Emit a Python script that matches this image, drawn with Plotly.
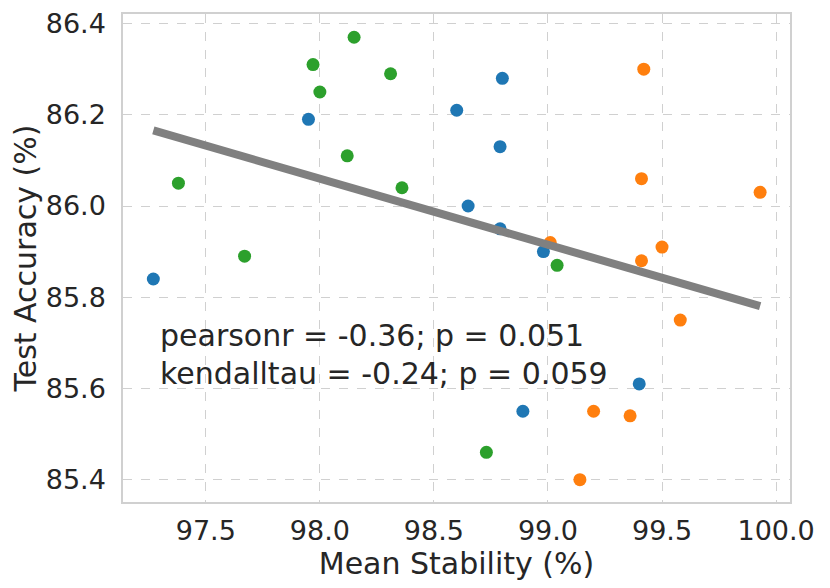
import numpy as np
import plotly.graph_objects as go

# Data
blue_x = [97.27, 97.95, 98.60, 98.65, 98.80, 98.79, 98.79, 98.98, 98.89, 99.40]
blue_y = [85.84, 86.19, 86.21, 86.00, 86.28, 86.13, 85.95, 85.90, 85.55, 85.61]
orange_x = [99.42, 99.41, 99.93, 99.01, 99.50, 99.41, 99.58, 99.20, 99.36, 99.14]
orange_y = [86.30, 86.06, 86.03, 85.92, 85.91, 85.88, 85.75, 85.55, 85.54, 85.40]
green_x = [98.15, 97.97, 98.31, 98.00, 98.12, 98.36, 97.38, 97.67, 99.04, 98.73]
green_y = [86.37, 86.31, 86.29, 86.25, 86.11, 86.04, 86.05, 85.89, 85.87, 85.46]

x_ticks = [97.5, 98.0, 98.5, 99.0, 99.5, 100.0]
y_ticks = [85.4, 85.6, 85.8, 86.0, 86.2, 86.4]

stats_lines = ["pearsonr = -0.36; p = 0.051", "kendalltau = -0.24; p = 0.059"]

FONT = "DejaVu Sans"
TXT = "#262626"

all_x = np.array(blue_x + orange_x + green_x)
all_y = np.array(blue_y + orange_y + green_y)
slope, intercept = np.polyfit(all_x, all_y, 1)
fit_x = np.array([all_x.min(), all_x.max()])
fit_y = slope * fit_x + intercept

fig = go.Figure()
for xs, ys, col in [(blue_x, blue_y, "#1f77b4"),
                    (orange_x, orange_y, "#ff7f0e"),
                    (green_x, green_y, "#2ca02c")]:
    fig.add_trace(go.Scatter(x=xs, y=ys, mode="markers",
                             marker=dict(color=col, size=13, line=dict(width=0)),
                             showlegend=False))
fig.add_trace(go.Scatter(x=fit_x, y=fit_y, mode="lines",
                         line=dict(color="#808080", width=8),
                         showlegend=False))

for i, t in enumerate(stats_lines):
    fig.add_annotation(text=t, xref="paper", yref="paper",
                       x=0.053, y=[0.342, 0.264][i], xanchor="left", yanchor="middle",
                       showarrow=False, font=dict(family=FONT, size=30, color=TXT))

axis_common = dict(showline=True, mirror=True, linecolor="#d0d0d0", linewidth=1.5,
                   showgrid=True, gridcolor="#d0d0d0", griddash="dash", gridwidth=1,
                   zeroline=False, ticks="", automargin=False,
                   tickfont=dict(family=FONT, size=27, color=TXT))

fig.update_xaxes(range=[97.137, 100.061], tickvals=x_ticks,
                 ticktext=[f"{v:.1f}" for v in x_ticks],
                 title=dict(text="Mean Stability (%)", standoff=0,
                            font=dict(family=FONT, size=30, color=TXT)),
                 ticklabelstandoff=4, **axis_common)
fig.update_yaxes(range=[85.351, 86.421], tickvals=y_ticks,
                 ticktext=[f"{v:.1f}" for v in y_ticks],
                 title=dict(text="Test Accuracy (%)", standoff=8,
                            font=dict(family=FONT, size=30, color=TXT)),
                 ticklabelstandoff=10, **axis_common)

# page body has an 8px margin; compensate so plot area lands where the reference has it
fig.update_layout(width=822, height=580,
                  margin=dict(l=115, r=40, t=6, b=86),
                  plot_bgcolor="white", paper_bgcolor="white",
                  font=dict(family=FONT, color=TXT))

fig.write_html("out.html")
